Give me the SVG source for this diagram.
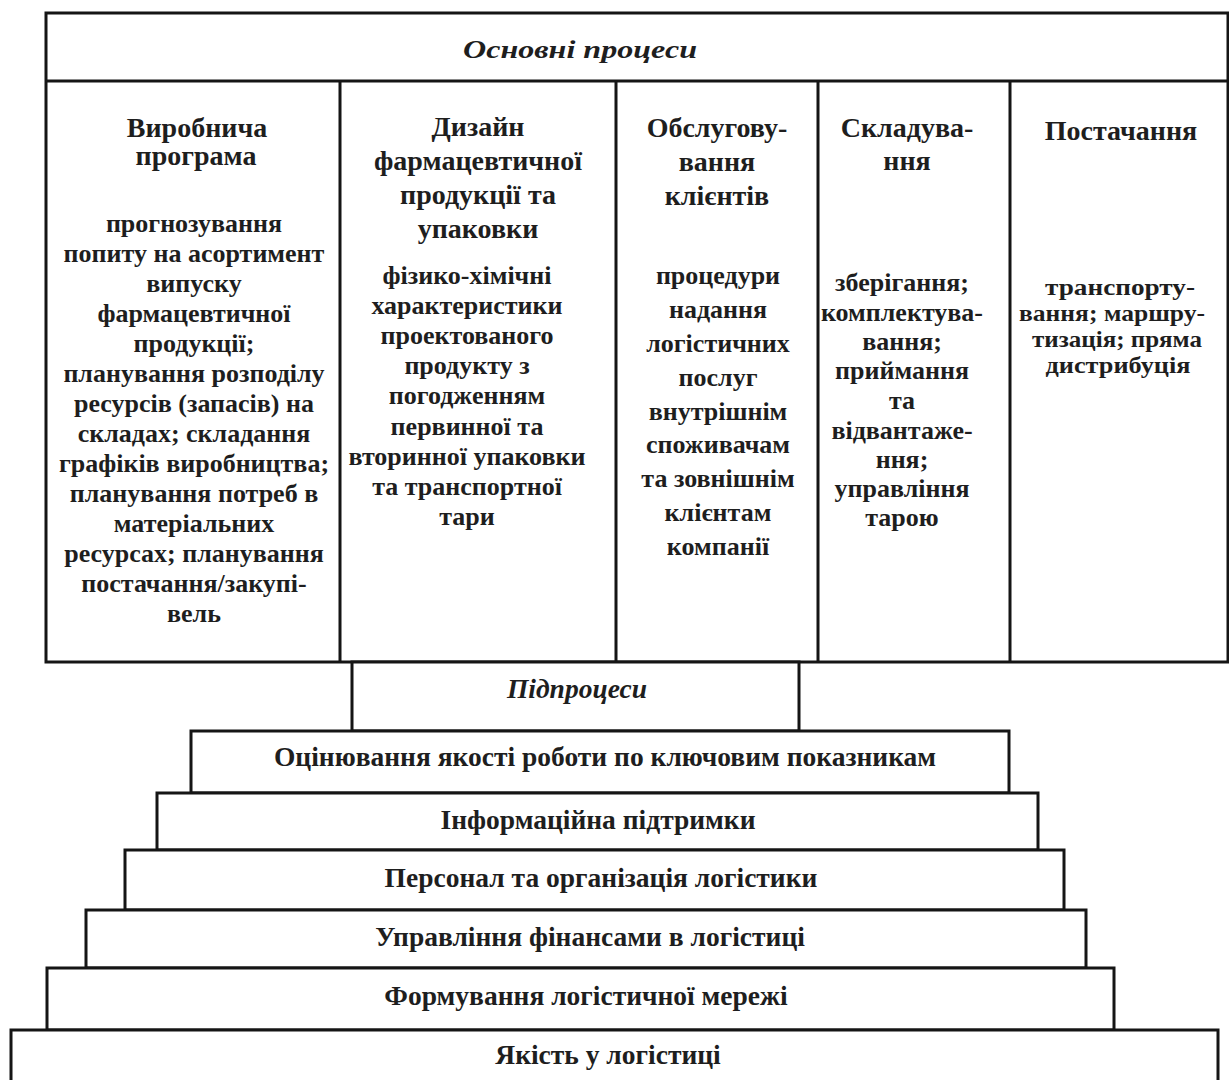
<svg xmlns="http://www.w3.org/2000/svg" width="1229" height="1080" viewBox="0 0 1229 1080">
<style>
.box{fill:#fff;stroke:#151515;stroke-width:3}
.ln{stroke:#151515;stroke-width:3;fill:none}
text{font-family:"Liberation Serif","Times New Roman",serif;font-weight:bold;fill:#1e1e1e;text-anchor:middle;font-size:26px}
.it{font-style:italic}
.hd{font-size:28px}
.st{font-size:27.5px}
.sm{font-size:23px}
</style>
<rect width="1229" height="1080" fill="#fff"/>
<g id="main-processes">
<rect class="box" x="46" y="13" width="1182" height="649"/>
<text class="it" x="580" y="58" font-size="34" textLength="234" lengthAdjust="spacingAndGlyphs">Основні процеси</text>
</g>
<g id="connectors">
<line class="ln" x1="46" y1="81" x2="1228" y2="81"/>
<line class="ln" x1="340" y1="81" x2="340" y2="662"/>
<line class="ln" x1="616" y1="81" x2="616" y2="662"/>
<line class="ln" x1="818" y1="81" x2="818" y2="662"/>
<line class="ln" x1="1010" y1="81" x2="1010" y2="662"/>
</g>
<g id="col-production">
<text class="hd" x="197" y="137">Виробнича</text>
<text class="hd" x="196" y="165">програма</text>
<text x="194" y="232">прогнозування</text>
<text x="194" y="262">попиту на асортимент</text>
<text x="194" y="292">випуску</text>
<text x="194" y="322">фармацевтичної</text>
<text x="194" y="352">продукції;</text>
<text x="194" y="382">планування розподілу</text>
<text x="194" y="412">ресурсів (запасів) на</text>
<text x="194" y="442">складах; складання</text>
<text x="194" y="472">графіків виробництва;</text>
<text x="194" y="502">планування потреб в</text>
<text x="194" y="532">матеріальних</text>
<text x="194" y="562">ресурсах; планування</text>
<text x="194" y="592">постачання/закупі-</text>
<text x="194" y="622">вель</text>
</g>
<g id="col-design">
<text class="hd" x="478" y="136">Дизайн</text>
<text class="hd" x="478" y="170">фармацевтичної</text>
<text class="hd" x="478" y="204">продукції та</text>
<text class="hd" x="478" y="238">упаковки</text>
<text x="467" y="284">фізико-хімічні</text>
<text x="467" y="314">характеристики</text>
<text x="467" y="344">проектованого</text>
<text x="467" y="374">продукту з</text>
<text x="467" y="404">погодженням</text>
<text x="467" y="435">первинної та</text>
<text x="467" y="465">вторинної упаковки</text>
<text x="467" y="495">та транспортної</text>
<text x="467" y="525">тари</text>
</g>
<g id="col-service">
<text class="hd" x="717" y="137">Обслугову-</text>
<text class="hd" x="717" y="171">вання</text>
<text class="hd" x="717" y="205">клієнтів</text>
<text x="718" y="284">процедури</text>
<text x="718" y="318">надання</text>
<text x="718" y="352">логістичних</text>
<text x="718" y="386">послуг</text>
<text x="718" y="420">внутрішнім</text>
<text x="718" y="453">споживачам</text>
<text x="718" y="487">та зовнішнім</text>
<text x="718" y="521">клієнтам</text>
<text x="718" y="555">компанії</text>
</g>
<g id="col-warehousing">
<text class="hd" x="907" y="137">Складува-</text>
<text class="hd" x="907" y="170">ння</text>
<text x="902" y="291">зберігання;</text>
<text x="902" y="321">комплектува-</text>
<text x="902" y="350">вання;</text>
<text x="902" y="379">приймання</text>
<text x="902" y="409">та</text>
<text x="902" y="439">відвантаже-</text>
<text x="902" y="468">ння;</text>
<text x="902" y="497">управління</text>
<text x="902" y="526">тарою</text>
</g>
<g id="col-supply">
<text class="hd" x="1121" y="140">Постачання</text>
<text class="sm" x="1120" y="295" textLength="150" lengthAdjust="spacingAndGlyphs">транспорту-</text>
<text class="sm" x="1112" y="321" textLength="186" lengthAdjust="spacingAndGlyphs">вання; маршру-</text>
<text class="sm" x="1117" y="347" textLength="170" lengthAdjust="spacingAndGlyphs">тизація; пряма</text>
<text class="sm" x="1118" y="373" textLength="145" lengthAdjust="spacingAndGlyphs">дистрибуція</text>
</g>
<g id="subprocesses">
<rect class="box" x="352" y="662" width="447" height="69"/>
<text class="it st" x="577" y="698">Підпроцеси</text>
</g>
<g id="step-1">
<rect class="box" x="191" y="731" width="818" height="62"/>
<text class="st" x="605" y="766">Оцінювання якості роботи по ключовим показникам</text>
</g>
<g id="step-2">
<rect class="box" x="157" y="793" width="881" height="57"/>
<text class="st" x="598" y="829">Інформаційна підтримки</text>
</g>
<g id="step-3">
<rect class="box" x="125" y="850" width="939" height="60"/>
<text class="st" x="601" y="887">Персонал та організація логістики</text>
</g>
<g id="step-4">
<rect class="box" x="86" y="910" width="1000" height="58"/>
<text class="st" x="590" y="946">Управління фінансами в логістиці</text>
</g>
<g id="step-5">
<rect class="box" x="47" y="968" width="1067" height="62"/>
<text class="st" x="586" y="1005">Формування логістичної мережі</text>
</g>
<g id="step-6">
<rect class="box" x="11" y="1030" width="1207" height="70"/>
<text class="st" x="608" y="1064">Якість у логістиці</text>
</g>
</svg>
